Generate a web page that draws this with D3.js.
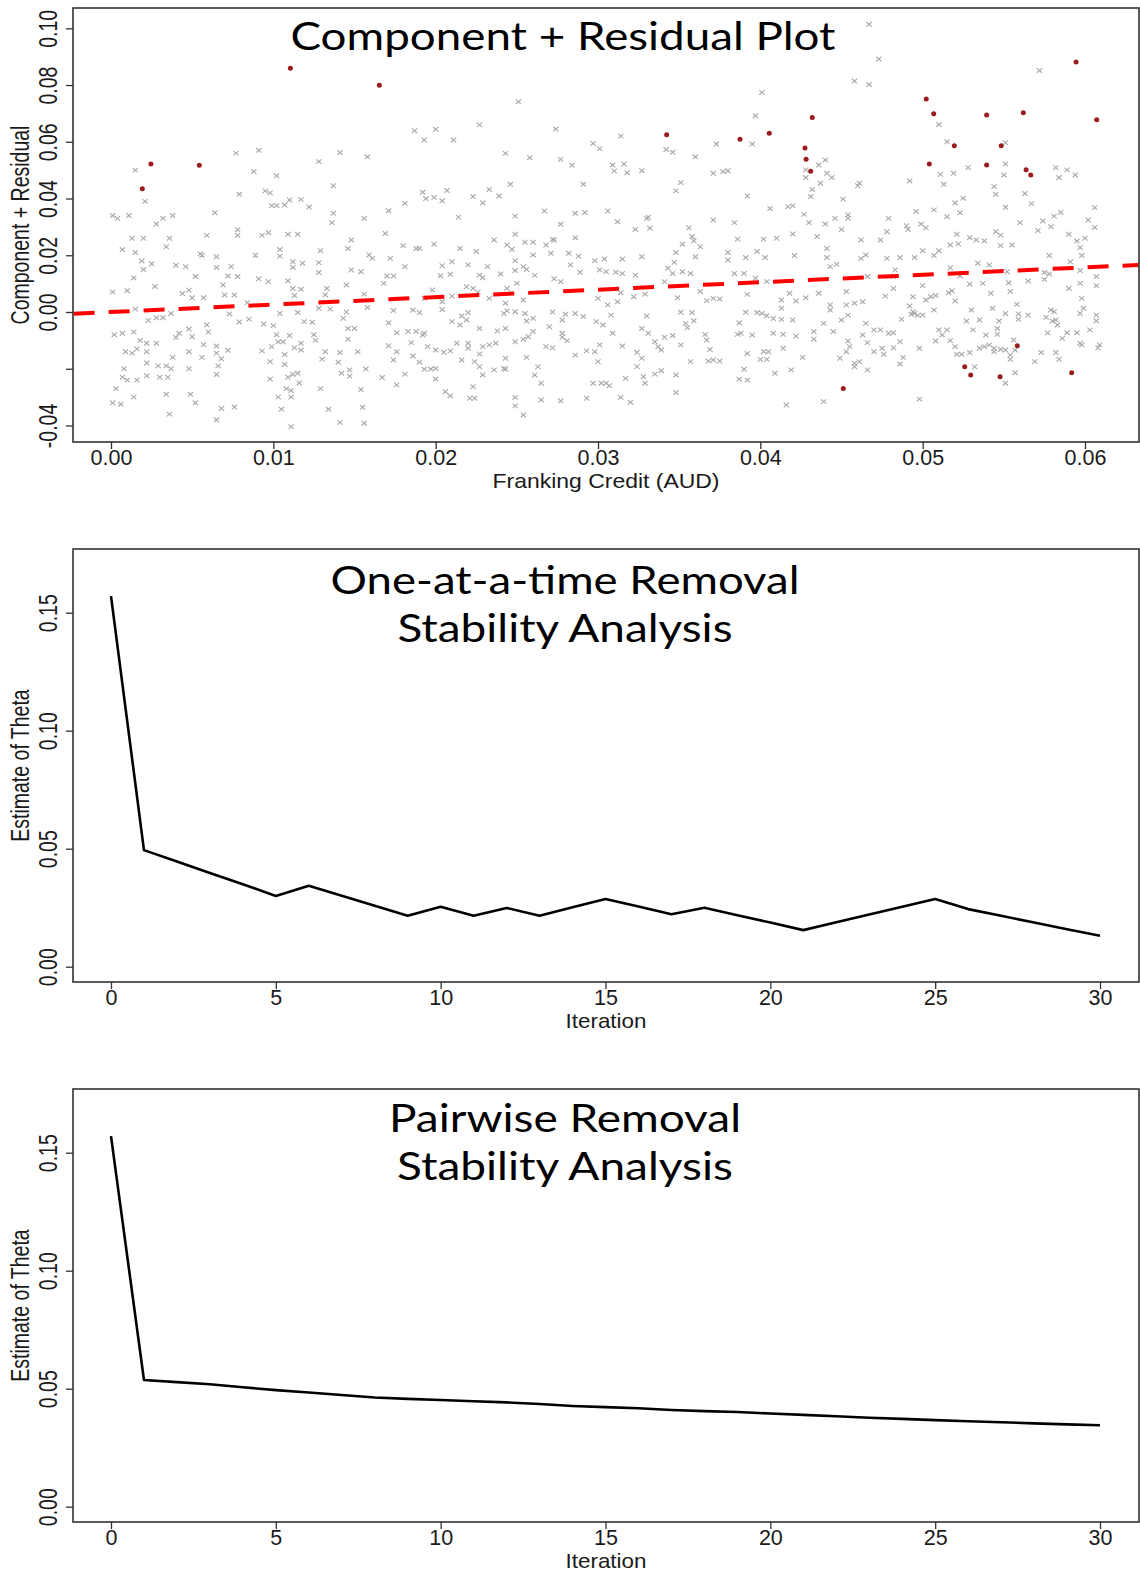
<!DOCTYPE html>
<html><head><meta charset="utf-8">
<script src="https://cdn.jsdelivr.net/npm/d3@7"></script>
<style>body{margin:0;background:#fff}svg{display:block}</style>
</head><body>
<svg id="c" width="1140" height="1573"></svg>
<script>
// ---------- data ----------
const crTicksX = [0, 0.01, 0.02, 0.03, 0.04, 0.05, 0.06];
const crTickLabelsX = ["0.00", "0.01", "0.02", "0.03", "0.04", "0.05", "0.06"];
const crTicksY = [-0.04, -0.02, 0, 0.02, 0.04, 0.06, 0.08, 0.10];
const crTickLabelsY = ["-0.04", "", "0.00", "0.02", "0.04", "0.06", "0.08", "0.10"];
const fitX = [-0.0023, 0.0633];
const fitY = [-0.0006, 0.0166];
const highlighted = [[.00193,.0434],[.00246,.0522],[.00544,.0517],[.01105,.0859],[.01653,.0799],[.03423,.0625],[.03875,.0609],[.04055,.0630],[.04320,.0686],[.04275,.0578],[.04282,.0538],[.04310,.0496],[.05022,.0751],[.05068,.0699],[.05195,.0586],[.05041,.0522],[.05394,.0694],[.05394,.0518],[.05484,.0586],[.05620,.0702],[.05637,.0501],[.05666,.0483],[.05945,.0881],[.06072,.0678],[.05583,-.0119],[.05259,-.0193],[.05296,-.0222],[.05477,-.0228],[.05918,-.0214],[.04511,-.0270]];
const residuals = [
[.0015,.050],[.0021,.039],[.0001,.034],[.0004,.033],[.0011,.034],[.0013,.026],[.0020,.026],[.0028,.031],[.0032,.033],[.0038,.034],[.0036,.026],[.0034,.023],[.0007,.022],[.0015,.021],[.0019,.018],[.0020,.015],[.0025,.017],[.0014,.012],[.0027,.009],[.0001,.007],[.0010,.0075],[.0015,.001],[.0023,-.003],[.0028,-.002],[.0032,-.002],[.0037,-.0005],[.0002,-.008],[.0007,-.0075],[.0014,-.007],[.0009,-.014],[.0013,-.0145],[.0016,-.013],[.0018,-.010],[.0022,-.011],[.0028,-.011],[.0022,-.014],[.0022,-.018],[.0029,-.019],[.0034,-.019],[.0037,-.020],[.0008,-.020],[.0007,-.023],[.0010,-.024],[.0016,-.024],[.0022,-.0225],[.0003,-.027],[.0014,-.030],[.0001,-.032],[.0006,-.0325],[.0034,-.029],[.0036,-.036],[.0035,-.023],[.0030,-.023],[.0040,-.009],[.0042,-.0075],[.0038,-.016],[.0040,.0165],[.0046,.016],[.0044,.0065],[.0048,.0077],[.0050,.005],[.0052,.0125],[.0055,.0205],[.0056,.020],[.0059,.027],[.0064,.035],[.0057,.005],[.0048,-.006],[.0050,-.0087],[.0048,-.014],[.0057,-.0115],[.0056,-.016],[.0048,-.020],[.0049,-.029],[.0052,-.032],[.0059,-.0045],[.0060,-.007],[.0065,-.012],[.0065,-.0145],[.0066,-.019],[.0065,-.022],[.0068,-.0165],[.0072,-.0135],[.0065,-.038],[.0068,-.034],[.0076,-.0335],[.0065,.0195],[.0065,.0157],[.0069,.0095],[.0070,.006],[.0072,.0127],[.0074,.016],[.0076,.006],[.0078,.0125],[.0073,-.0007],[.0078,.029],[.0078,.027],[.0077,.056],[.0079,.0415],[.0079,-.0035],[.0084,.0033],[.0085,-.0025],[.0088,.0495],[.0091,.057],[.0089,.020],[.0091,.0117],[.0093,.027],[.0097,.028],[.0095,.0427],[.0098,.042],[.0097,.0107],[.0093,-.0137],[.0098,-.0175],[.0098,-.0236],[.0094,-.0042],[.0100,-.0048],[.0099,-.0122],[.0102,.048],[.0099,.0375],[.0102,.0375],[.0104,.022],[.0104,.0197],[.0104,-.0005],[.0102,-.008],[.0103,-.030],[.0105,-.0343],[.0103,-.0105],[.0106,-.0105],[.0107,-.015],[.0107,-.0185],[.0107,.0377],[.0109,.011],[.0110,.0395],[.0109,.0274],[.0115,.0274],[.0112,.0177],[.0112,.0157],[.0112,.0083],[.0113,.0058],[.0117,.0397],[.0118,.0172],[.0117,.008],[.0115,-.0002],[.0112,-.022],[.0115,-.0216],[.0109,-.023],[.0108,-.027],[.0111,-.0277],[.0111,-.030],[.0111,-.0404],[.0110,-.0083],[.0113,-.0126],[.0117,-.011],[.0117,-.0134],[.0116,-.025],[.0119,-.0034],[.0122,.037],[.0124,-.0036],[.0125,-.008],[.0126,-.010],[.0128,.053],[.0129,.0216],[.0128,.0174],[.0128,.0139],[.0128,.0013],[.0130,-.0166],[.0129,-.027],[.0132,-.014],[.0133,.0083],[.0132,.006],[.0135,.001],[.0136,.0315],[.0137,.0348],[.0137,.0445],[.0134,-.0343],[.0140,-.0177],[.0141,.0562],[.0143,-.0022],[.0141,-.0143],[.0142,-.0216],[.0141,-.0389],[.0145,.0095],[.0145,.000],[.0146,-.0058],[.0146,-.0096],[.0146,.0224],[.0148,.0254],[.0148,.0148],[.0147,-.0204],[.0147,-.0226],[.0150,-.0058],[.0152,-.014],[.0154,-.0273],[.0155,-.0336],[.0156,-.0392],[.0156,.033],[.0156,.0063],[.0154,.0142],[.0157,-.0201],[.0158,.0016],[.0158,.0547],[.0159,.0201],[.0161,.0189],[.0167,-.0231],[.0168,.0101],[.0169,.0277],[.0170,.0127],[.0171,.0357],[.0172,.0189],[.0174,.0005],[.0171,-.0038],[.0171,-.0119],[.0176,-.014],[.0176,-.0257],[.0174,-.0169],[.0174,.0127],[.0176,-.0073],
[.0187,.0639],[.0193,.0606],[.0200,.0644],[.0211,.0606],[.0227,.066],[.0251,.0741],[.0274,.0645],[.0243,.0559],[.0258,.0544],[.0277,.0538],[.0284,.0517],[.0192,.0422],[.0194,.040],[.0199,.0404],[.0204,.0392],[.0207,.0428],[.0181,.0383],[.0223,.0407],[.0229,.0385],[.0233,.0432],[.0239,.0409],[.0246,.045],[.0214,.0334],[.0249,.0338],[.0267,.0356],[.0291,.045],[.0286,.0348],[.0292,.0351],[.0297,.0594],[.0301,.0576],[.0309,.0518],[.0310,.0497],[.0316,.0521],[.0318,.0491],[.0327,.0498],[.0314,.062],[.0306,.0356],[.0312,.0318],[.0277,.0309],[.0330,.033],[.0332,.0295],[.0323,.0291],[.0342,.0573],[.0346,.0563],[.0360,.0547],[.0351,.0456],[.0348,.0427],[.0373,.0592],[.0371,.0489],[.0377,.0495],[.0380,.0498],[.0397,.0692],[.0401,.0774],[.0395,.0592],[.0392,.0409],[.0406,.0365],[.0371,.0324],[.0356,.0297],[.0384,.0315],[.0386,.0257],[.0402,.0257],[.0180,.0234],[.0188,.0224],[.0190,.0224],[.0199,.0239],[.0181,.016],[.0204,.0163],[.0203,.0128],[.0209,.0133],[.0210,.0177],[.0215,.0224],[.0220,.0166],[.0225,.0213],[.0227,.013],[.0229,.0121],[.0232,.016],[.0236,.0254],[.0240,.0134],[.0244,.0236],[.0247,.0221],[.0249,.0181],[.0249,.0146],[.0249,.0274],[.0255,.0246],[.0260,.0246],[.0256,.015],[.0261,.0129],[.0260,.0201],[.0268,.0236],[.0272,.0256],[.0271,.0207],[.0273,.0254],[.0283,.0166],[.0282,.0207],[.0288,.0197],[.0289,.014],[.0286,.0262],[.0277,.0107],[.0273,.0117],[.0254,.016],[.0298,.0181],[.0301,.0148],[.0304,.0187],[.0305,.0142],[.0311,.014],[.0315,.0187],[.0315,.0136],[.0323,.013],[.0327,.0195],[.0331,.0334],[.0341,.0107],[.0343,.0154],[.0346,.0136],[.0348,.021],[.0347,.0175],[.0352,.0142],[.0358,.0266],[.0359,.0251],[.0363,.023],[.0352,.0239],[.0360,.0195],[.0357,.0136],[.0380,.021],[.0380,.0183],[.0384,.0136],[.0390,.0136],[.0391,.0192],[.0397,.0119],[.0398,.0213],[.0403,.0192],[.0404,.0107],[.0410,.026],[.0351,-.0001],[.0349,.005],[.0363,.0072],[.0367,.004],[.0371,.0048],[.0375,.0046],[.0392,.0062],[.0391,-.0001],[.0398,-.0002],[.0401,-.0005],[.0404,-.0013],[.0408,-.0023],[.0408,-.0075],[.0405,-.014],[.0402,-.014],[.0404,-.0167],[.0400,-.0167],[.0392,-.0146],[.0395,-.0081],[.0388,-.0075],[.0386,-.0079],[.0387,-.0038],[.0390,-.0202],[.0387,-.0237],[.0392,-.024],[.0409,-.0216],[.0366,-.0079],[.0367,-.0099],[.0368,-.0173],[.0371,-.0169],[.0375,-.0173],[.0369,-.0132],[.0358,-.0002],[.0359,-.0031],[.0354,-.004],[.0355,-.0055],[.0351,-.0116],[.0357,-.0175],[.0348,-.0222],[.0348,-.0284],[.0346,-.0083],[.0341,-.0089],[.0339,-.0134],[.0337,-.0122],[.0331,-.0075],[.0335,-.0105],[.0330,-.0014],[.0327,-.0058],[.0322,.0054],[.0329,.0063],[.0324,-.0142],[.0327,-.0163],[.0324,-.0193],[.0328,-.0228],[.0329,-.0251],[.0335,-.0219],[.0339,-.0207],[.0317,-.0234],[.0315,-.012],[.0314,-.0301],[.0320,-.0318],[.0305,-.0251],[.0302,-.0251],[.0297,-.0251],[.0307,-.026],[.0293,-.0304],[.0300,-.0175],[.0298,-.014],[.0293,-.0137],[.0286,-.0152],[.0299,-.0034],[.0303,-.0046],[.0308,-.0011],[.0309,-.0075],[.0301,-.0116],[.0314,.0068],[.0312,.0036],[.0306,.0025],[.0300,.0048],[.0291,-.0016],[.0286,-.0005],[.0280,-.0008],[.0278,-.0075],[.0278,-.0089],[.0281,-.0101],[.0278,-.0028],[.0272,.000],[.0270,-.0052],[.0272,-.0126],[.0268,-.0122],[.0263,-.0193],[.0261,-.0222],[.0265,-.0251],[.0256,-.016],[.0257,-.0087],[.0254,-.0096],[.0260,-.0069],[.0256,-.0032],[.0255,-.0005],[.0260,-.0022],[.0254,.0042],[.0250,.0101],[.0244,.0083],[.0243,.0031],[.0244,.0004],[.0242,-.0005],[.0249,.0001],[.0238,-.0067],[.0243,-.0058],[.0237,-.011],[.0233,-.0116],[.0243,-.0163],[.0242,-.0199],[.0243,-.0202],[.0249,-.0105],[.0249,-.0301],[.0249,-.0331],[.0254,-.0363],[.0265,-.031],[.0277,-.0313],[.0221,-.0304],[.0224,-.0304],[.0223,-.0263],[.0206,-.0281],[.0209,-.0295],[.0200,-.0236],[.0193,-.0202],[.0197,-.0201],[.0200,-.0199],[.0190,-.0177],[.0181,-.0219],[.0186,-.0155],[.0185,-.0108],[.0195,-.0122],[.0200,-.0134],[.0205,-.0142],[.0209,-.0137],[.0213,-.011],[.0220,-.011],[.0220,-.0128],[.0216,-.0169],[.0224,-.0175],[.0227,-.0193],[.0229,-.0222],[.0236,-.0204],[.0227,-.0148],[.0229,-.0122],[.0227,-.0058],[.0219,-.0028],[.0215,-.0046],[.0210,-.0034],[.0216,-.0014],[.0220,-.0002],[.0193,-.0075],[.0192,-.0081],[.0188,-.0069],[.0183,-.0069],[.0186,.0007],[.0190,-.0002],[.0204,.0009],[.0198,.0078],[.0219,.0089],[.0223,.0083],[.0210,.0056],[.0204,.0036],[.0233,.0048],[.0226,.0069],[.0193,.0048],
[.0467,.1014],[.0473,.0892],[.0458,.0814],[.0467,.0802],[.0572,.0851],[.0510,.0661],[.0515,.060],[.0551,.0597],[.0551,.0522],[.0550,.0483],[.0528,.0509],[.0519,.0489],[.0511,.0485],[.0513,.045],[.0492,.0462],[.0544,.0442],[.0545,.0415],[.0563,.0418],[.0567,.0382],[.0551,.0369],[.0525,.0401],[.0520,.0385],[.0523,.035],[.0515,.0336],[.0507,.036],[.0496,.0354],[.0582,.0509],[.0589,.0501],[.0584,.0474],[.0594,.0483],[.0581,.0338],[.0585,.0351],[.0574,.0321],[.0579,.0301],[.0571,.0287],[.0606,.0368],[.0602,.0324],[.0606,.0298],[.0600,.026],[.0595,.025],[.0597,.0227],[.0598,.0199],[.0590,.0274],[.0578,.0199],[.0560,.0315],[.0545,.0283],[.0548,.0271],[.0548,.0234],[.0555,.0236],[.0538,.0251],[.0533,.0254],[.0529,.0262],[.0521,.0274],[.0517,.0236],[.0522,.024],[.0499,.031],[.0502,.0297],[.0490,.0304],[.0491,.0291],[.0479,.033],[.0478,.0283],[.0474,.0254],[.0462,.0254],[.0454,.0342],[.0454,.033],[.0451,.0398],[.0446,.033],[.0440,.031],[.0450,.0291],[.0435,.0266],[.0430,.0315],[.0427,.0344],[.0420,.0275],[.0420,.0374],[.0417,.0371],[.0431,.0407],[.0432,.0432],[.0437,.0454],[.0440,.0536],[.0436,.0518],[.0441,.0489],[.0444,.0474],[.0460,.0445],[.0461,.0454],[.0428,.0474],[.0428,.0501],[.0421,.0199],[.0441,.0224],[.0441,.0192],[.0443,.016],[.0447,.0168],[.0462,.0189],[.0465,.0201],[.0478,.0189],[.0486,.0192],[.0483,.0148],[.0495,.0192],[.0500,.0216],[.0507,.0199],[.0510,.0216],[.0517,.0156],[.0523,.0127],[.0534,.0172],[.0541,.0166],[.0552,.0142],[.0575,.0139],[.0578,.0134],[.0591,.0177],[.0597,.0146],[.0607,.0125],[.0607,.0093],[.0597,.0101],[.0590,.0083],[.0575,.0115],[.0565,.0109],[.0553,.0103],[.0554,.0072],[.0542,.0066],[.0537,.0101],[.0529,.0098],[.0518,.0075],[.0520,.0039],[.0516,.0068],[.0508,.0058],[.0502,.0042],[.0494,.0054],[.0500,.0093],[.0482,.0125],[.0482,.0083],[.0477,.0056],[.0466,.0125],[.0463,.0036],[.0458,.0031],[.0453,.0072],[.0453,.0025],[.0443,.0025],[.0436,.0066],[.0422,.0039],[.0418,.0066],[.0428,.005],[.0413,.0042],[.0413,.0013],[.0420,-.0028],[.0413,-.0026],[.0422,-.0085],[.0414,-.0079],[.0414,-.0128],[.0419,-.0204],[.0426,-.016],[.0433,-.0069],[.0433,-.0096],[.0439,-.004],[.0443,.0007],[.0450,-.0028],[.0454,-.0011],[.0445,-.0069],[.0449,-.0163],[.0454,-.0102],[.0455,-.0122],[.0453,-.014],[.0458,-.0181],[.0461,-.0175],[.0458,-.0193],[.0466,-.0204],[.0439,-.0316],[.0416,-.0328],[.0465,-.004],[.0463,-.0081],[.0466,-.0108],[.0470,-.014],[.0470,-.0063],[.0474,-.0063],[.0475,-.0128],[.0479,-.0075],[.0482,-.0073],[.0486,-.0105],[.0482,-.0126],[.0488,-.016],[.0486,-.0183],[.0476,-.0149],[.0487,-.0026],[.0492,.0021],[.0495,-.0005],[.0494,.0001],[.0493,-.0008],[.0497,-.0012],[.0500,-.0011],[.0505,.0054],[.0507,.0007],[.0510,-.0063],[.0512,-.0081],[.0515,-.0063],[.0508,-.0102],[.0498,-.0128],[.0498,-.0307],[.0517,-.0101],[.0520,-.0122],[.0521,-.0149],[.0524,-.0149],[.0529,-.0143],[.0532,-.0193],[.0531,-.0063],[.0535,-.0128],[.0538,-.0122],[.0541,-.0116],[.0544,-.0128],[.0546,-.0058],[.0546,-.0079],[.0547,-.0032],[.0551,-.0005],[.0543,.0013],[.0535,-.0028],[.0527,-.0032],[.0530,.0007],[.0539,-.0081],[.0544,-.014],[.0548,-.0132],[.0551,-.0134],[.0556,-.0099],[.0557,-.0134],[.0554,-.0167],[.0557,-.0214],[.0551,-.0251],[.0554,-.0152],[.0559,-.0026],[.0559,-.0007],[.0565,-.0011],[.0558,.0027],[.0569,-.0175],[.0573,-.0143],[.0577,-.0073],[.0576,-.0019],[.0579,.0007],[.0581,.0001],[.0580,-.0032],[.0582,-.0028],[.0583,-.0046],[.0586,-.0093],[.0582,-.0143],[.0584,-.0167],[.0589,-.0073],[.0595,-.0073],[.0597,-.011],[.0598,-.0116],[.0603,-.0063],[.0598,.0048],[.0597,-.0005],[.0607,-.0011],[.0607,-.0031],[.0609,-.0116],[.0608,-.0126],[.0599,.0013]
];

const iterations = [0,1,2,3,4,5,6,7,8,9,10,11,12,13,14,15,16,17,18,19,20,21,22,23,24,25,26,27,28,29,30];
const oneAtATime = [0.157,0.0494,0.0446,0.0397,0.0349,0.0300,0.0343,0.0301,0.0258,0.0216,0.0254,0.0216,0.0249,0.0216,0.0252,0.0287,0.0255,0.0222,0.0250,0.0218,0.0187,0.0155,0.0188,0.0221,0.0254,0.0287,0.0244,0.0216,0.0187,0.0159,0.0131];
const pairwise = [0.157,0.0537,0.0528,0.0519,0.0506,0.0494,0.0484,0.0473,0.0463,0.0457,0.0452,0.0447,0.0442,0.0435,0.0427,0.0422,0.0417,0.0410,0.0405,0.0401,0.0395,0.0389,0.0383,0.0377,0.0372,0.0367,0.0362,0.0358,0.0353,0.0349,0.0345];
const iterTicks = [0,5,10,15,20,25,30];
const thetaTicks = [0, 0.05, 0.10, 0.15];
const thetaTickLabels = ["0.00", "0.05", "0.10", "0.15"];

// ---------- drawing ----------
const svg = d3.select("#c");
const AFONT = "'Liberation Sans', Arial, Helvetica, sans-serif";
const TFONT = "Lato, 'Open Sans', sans-serif";
const TXT = "#1a1a1a";

function frame(box) {
  svg.append("rect").attr("x", box.l).attr("y", box.t)
    .attr("width", box.r - box.l).attr("height", box.b - box.t)
    .attr("fill", "none").attr("stroke", "#333").attr("stroke-width", 1.6);
}

function axes(box, x, y, xt, xl, yt, yl) {
  const gx = svg.append("g").attr("transform", `translate(0,${box.b})`)
    .call(d3.axisBottom(x).tickValues(xt).tickFormat((d, i) => xl[i]).tickSize(7).tickPadding(1));
  gx.select(".domain").remove();
  gx.selectAll("line").attr("stroke", "#333").attr("stroke-width", 1.3);
  gx.selectAll("text").attr("font-family", AFONT).attr("font-size", 21.5).attr("fill", TXT)
    .attr("transform", function () { return "scale(1,1)"; });
  const gy = svg.append("g").attr("transform", `translate(${box.l},0)`)
    .call(d3.axisLeft(y).tickValues(yt).tickFormat((d, i) => yl[i]).tickSize(7));
  gy.select(".domain").remove();
  gy.selectAll("line").attr("stroke", "#333").attr("stroke-width", 1.3);
  gy.selectAll("text").attr("font-family", AFONT).attr("font-size", 19.5).attr("fill", TXT)
    .attr("x", 0).attr("dy", 0).attr("text-anchor", "middle")
    .attr("transform", "translate(-16,0) rotate(-90) scale(1,1.3)");
}

function xTitle(box, txt, y, len) {
  svg.append("text").attr("x", (box.l + box.r) / 2).attr("y", y)
    .attr("text-anchor", "middle").attr("font-family", AFONT).attr("font-size", 21)
    .attr("fill", TXT).attr("textLength", len).attr("lengthAdjust", "spacingAndGlyphs").text(txt);
}
function yTitle(box, txt) {
  svg.append("text").attr("text-anchor", "middle").attr("font-family", AFONT)
    .attr("font-size", 19.5).attr("fill", TXT)
    .attr("transform", `translate(29,${(box.t + box.b) / 2}) rotate(-90) scale(1,1.3)`).text(txt);
}
function title(cx, y, txt, len) {
  svg.append("text").attr("x", cx).attr("y", y).attr("text-anchor", "middle")
    .attr("font-family", TFONT).attr("font-size", 39).attr("fill", "#000")
    .attr("textLength", len).attr("lengthAdjust", "spacingAndGlyphs").text(txt);
}

// Panel 1: component + residual
{
  const box = {l: 73, r: 1139, t: 8, b: 442};
  const x = d3.scaleLinear().domain([0, 0.06]).range([111, 1085]);
  const y = d3.scaleLinear().domain([0, 0.10]).range([312, 28.3]);
  svg.append("clipPath").attr("id", "clip1").append("rect")
    .attr("x", box.l).attr("y", box.t).attr("width", box.r - box.l).attr("height", box.b - box.t);
  const g = svg.append("g").attr("clip-path", "url(#clip1)");
  g.selectAll("path.res").data(residuals).join("path").attr("class", "res")
    .attr("transform", d => `translate(${x(d[0])},${y(d[1])})`)
    .attr("d", "M-2.6,-2.3L2.6,2.3M-2.6,2.3L2.6,-2.3")
    .attr("stroke", "#a8a8a8").attr("stroke-width", 1.1).attr("fill", "none");
  g.append("path").datum(fitX.map((v, i) => [v, fitY[i]]))
    .attr("d", d3.line().x(d => x(d[0])).y(d => y(d[1])))
    .attr("stroke", "#ff0000").attr("stroke-width", 4).attr("fill", "none")
    .attr("stroke-dasharray", "21,14");
  g.selectAll("circle").data(highlighted).join("circle")
    .attr("cx", d => x(d[0])).attr("cy", d => y(d[1])).attr("r", 2.5)
    .attr("fill", "#9b1c1c");
  frame(box);
  axes(box, x, y, crTicksX, crTickLabelsX, crTicksY, crTickLabelsY);
  xTitle(box, "Franking Credit (AUD)", 488, 227);
  yTitle(box, "Component + Residual");
  title(563, 50, "Component + Residual Plot", 545);
}

function linePanel(box, y0px, values, t1, l1, t2, l2, base1, base2) {
  const x = d3.scaleLinear().domain([0, 30]).range([111, 1100]);
  const y = d3.scaleLinear().domain([0, 0.15]).range([y0px, y0px - 354]);
  svg.append("path").datum(values)
    .attr("d", d3.line().x((d, i) => x(iterations[i])).y(d => y(d)))
    .attr("stroke", "#000").attr("stroke-width", 2.6).attr("fill", "none")
    .attr("stroke-linejoin", "round");
  frame(box);
  axes(box, x, y, iterTicks, iterTicks.map(String), thetaTicks, thetaTickLabels);
  xTitle(box, "Iteration", box.b + 46, 81);
  yTitle(box, "Estimate of Theta");
  title(565, base1, t1, l1);
  title(565, base2, t2, l2);
}

linePanel({l: 73, r: 1139, t: 549, b: 982}, 966.7, oneAtATime,
  "One-at-a-time Removal", 469, "Stability Analysis", 335, 594, 642);
linePanel({l: 73, r: 1139, t: 1089, b: 1522}, 1506.7, pairwise,
  "Pairwise Removal", 352, "Stability Analysis", 336, 1132, 1180);
</script>
</body></html>
